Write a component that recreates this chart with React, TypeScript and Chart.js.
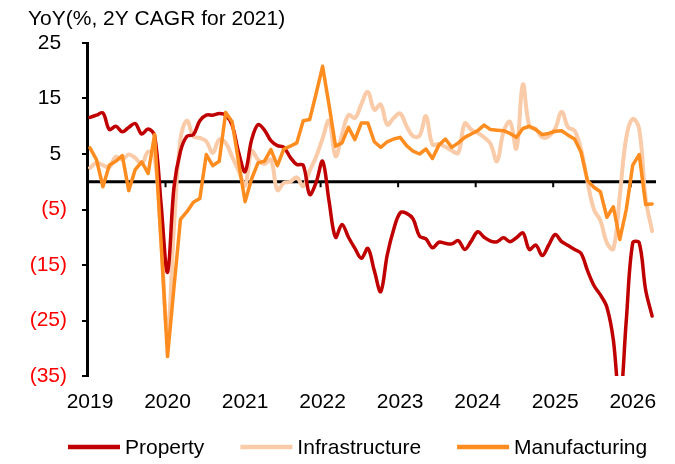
import React, { useEffect, useRef } from 'react';
import { Chart, registerables } from 'chart.js';

Chart.register(...registerables);

const FONT = "'Liberation Sans', Arial, Helvetica, sans-serif";

const titleText = 'YoY(%, 2Y CAGR for 2021)';
const yearLabels = ['2019', '2020', '2021', '2022', '2023', '2024', '2025', '2026'];
const yTickValues = [-35, -25, -15, -5, 5, 15, 25];

// Monthly values, Jan 2019 .. Apr 2026
const property = [
  11.6, 12.0, 12.4, 9.4, 10.0, 9.0, 9.8, 10.5, 8.6, 9.5, 8.3, -4.0,
  -16.3, -1.0, 5.5, 8.2, 8.5, 11.0, 12.0, 12.0, 12.3, 12.0, 10.2, 5.3,
  1.8, 7.5, 10.3, 9.3, 7.4, 6.5, 6.2, 4.4, 3.1, 3.0, -2.3, -0.1,
  3.7, -3.5, -10.0, -7.7, -10.0, -12.0, -13.8, -12.0, -16.0, -19.8, -13.2, -8.6,
  -5.6, -5.7, -6.7, -9.8, -10.3, -11.9, -10.9, -11.1, -11.2, -10.6, -12.2, -10.7,
  -9.0, -10.0, -10.7, -10.8, -10.1, -10.8, -10.1, -9.2, -12.2, -11.4, -13.3, -11.4,
  -9.5, -10.8, -11.5, -12.2, -12.9, -16.0, -18.7, -20.4, -22.6, -28.5, -40.0, -25.0,
  -11.0, -11.0, -19.5, -24.2,
];

const infrastructure = [
  2.5, 3.4, 3.0, 2.6, 4.5, 4.0, 4.9, 4.3, 3.2, 5.4, 4.5, -10.0,
  -27.0, -8.0, 7.6, 11.0, 8.2, 7.9, 7.3, 5.2, 7.6, 7.0, 4.5, 2.0,
  -0.7, 5.5, 4.0, 3.2, 4.0, -1.5, -0.2, 0.0, 0.8, -0.8, 2.0, 4.5,
  7.8, 11.0, 4.6, 8.5, 12.0, 11.5, 14.0, 16.2, 13.0, 13.9, 10.3, 11.5,
  12.3, 10.0, 8.2, 8.3, 11.8, 6.7, 6.8, 6.3, 5.6, 5.2, 10.5, 9.4,
  8.8, 8.0, 6.8, 3.7, 9.0, 10.8, 6.0, 17.5, 10.0, 9.5, 8.0, 8.2,
  9.6, 12.6, 9.8, 9.2, 5.8, 0.0, -5.0, -7.0, -11.0, -12.1, -2.5, 8.0,
  11.3, 9.5, -3.0, -8.9,
];

const manufacturing = [
  6.1, 4.0, -0.9, 3.0, 3.7, 4.7, -1.6, 2.2, 3.6, 1.5, 8.5, -11.0,
  -31.5, -19.0, -6.8, -5.4, -3.7, -3.0, 4.9, 2.9, 3.7, 12.5, 10.8, 3.5,
  -3.6, 0.5, 3.4, 3.7, 5.8, 2.9, 5.9, 6.4, 7.0, 11.0, 11.2, 15.9,
  20.8, 13.8, 6.4, 7.0, 9.8, 7.6, 10.6, 10.6, 7.2, 6.2, 7.2, 7.7,
  8.0, 6.5, 5.5, 5.0, 5.9, 4.2, 6.6, 7.7, 6.2, 7.0, 8.0, 8.6,
  9.2, 10.2, 9.4, 9.3, 9.2, 8.7, 8.0, 9.6, 10.0, 9.4, 8.5, 8.7,
  9.1, 9.2, 8.4, 7.7, 5.3, 0.2, -1.0, -1.8, -6.4, -4.5, -10.4, -5.0,
  3.0, 4.9, -4.1, -4.0,
];

const toPoints = (arr: number[]) => arr.map((y, i) => ({ x: i, y }));

export default function App() {
  const canvasRef = useRef<HTMLCanvasElement>(null);

  useEffect(() => {
    if (!canvasRef.current) return;

    const overlay = {
      id: 'overlay',
      beforeDatasetsDraw(chart: any) {
        const { ctx, chartArea, scales } = chart;
        const xs = scales.x;
        const ys = scales.y;
        const y0 = ys.getPixelForValue(0);
        ctx.save();
        ctx.strokeStyle = '#000';
        ctx.lineWidth = 3;
        ctx.beginPath();
        ctx.moveTo(chartArea.left, y0);
        ctx.lineTo(chartArea.right, y0);
        ctx.stroke();
        ctx.lineWidth = 2;
        yearLabels.forEach((_, k) => {
          const px = xs.getPixelForValue(k * 12 - 0.31);
          if (px <= chartArea.left + 2) return;
          ctx.beginPath();
          ctx.moveTo(px, y0);
          ctx.lineTo(px, y0 + 5.5);
          ctx.stroke();
        });
        ctx.restore();
      },
      afterDraw(chart: any) {
        const { ctx } = chart;
        ctx.save();
        ctx.font = `21px ${FONT}`;
        ctx.fillStyle = '#000';
        ctx.textAlign = 'left';
        ctx.textBaseline = 'alphabetic';
        ctx.fillText(titleText, 28, 25);

        let lx = 68;
        const ly = 447;
        chart.data.datasets.forEach((ds: any) => {
          ctx.strokeStyle = ds.borderColor;
          ctx.lineWidth = 4.5;
          ctx.lineCap = 'butt';
          ctx.beginPath();
          ctx.moveTo(lx, ly);
          ctx.lineTo(lx + 52, ly);
          ctx.stroke();
          ctx.fillStyle = '#000';
          ctx.textBaseline = 'middle';
          ctx.fillText(ds.label, lx + 57, ly + 1);
          lx += 57 + ctx.measureText(ds.label).width + 36;
        });
        ctx.restore();
      },
    };

    const chart = new Chart(canvasRef.current, {
      type: 'line',
      data: {
        datasets: [
          {
            label: 'Property',
            data: toPoints(property),
            borderColor: '#C00000',
            backgroundColor: '#C00000',
            borderWidth: 3.5,
            tension: 0.35,
            pointRadius: 0,
            borderJoinStyle: 'round',
            borderCapStyle: 'round',
            order: 1,
          },
          {
            label: 'Infrastructure',
            data: toPoints(infrastructure),
            borderColor: '#F9CBA9',
            backgroundColor: '#F9CBA9',
            borderWidth: 4,
            tension: 0.4,
            pointRadius: 0,
            borderJoinStyle: 'round',
            borderCapStyle: 'round',
            order: 2,
          },
          {
            label: 'Manufacturing',
            data: toPoints(manufacturing),
            borderColor: '#FF8C1F',
            backgroundColor: '#FF8C1F',
            borderWidth: 3.5,
            tension: 0,
            pointRadius: 0,
            borderJoinStyle: 'round',
            borderCapStyle: 'round',
            order: 0,
          },
        ] as any,
      },
      options: {
        responsive: false,
        animation: false,
        events: [],
        layout: { padding: { top: 43, right: 19, bottom: 0, left: 0 } },
        plugins: {
          legend: { display: false },
          tooltip: { enabled: false },
          title: { display: false },
        },
        scales: {
          x: {
            type: 'linear',
            min: -0.464,
            max: 87.6,
            grid: { display: false },
            border: { display: false },
            afterBuildTicks: (s: any) => {
              s.ticks = yearLabels.map((_, k) => ({ value: k * 12 }));
            },
            afterFit: (s: any) => {
              s.height = 88;
            },
            ticks: {
              autoSkip: false,
              maxRotation: 0,
              padding: 6,
              color: '#000',
              font: { size: 21, family: FONT },
              callback: (v: any) => yearLabels[Math.round(Number(v) / 12)] ?? '',
            },
          },
          y: {
            type: 'linear',
            min: -35,
            max: 25,
            afterBuildTicks: (s: any) => {
              s.ticks = yTickValues.map((v) => ({ value: v }));
            },
            afterFit: (s: any) => {
              s.width = 87;
            },
            grid: {
              drawOnChartArea: false,
              drawTicks: true,
              tickLength: 5,
              color: '#000',
              lineWidth: 2,
            },
            border: { display: true, color: '#000', width: 3 },
            ticks: {
              padding: 15,
              font: { size: 21, family: FONT },
              color: (c: any) => (c.tick && c.tick.value < 0 ? '#FF0000' : '#000'),
              callback: (v: any) => (Number(v) < 0 ? `(${-Number(v)})` : `${v} `),
            },
          },
        },
      } as any,
      plugins: [overlay],
    });

    return () => chart.destroy();
  }, []);

  return (
    <div style={{ position: 'fixed', left: 0, top: 0, width: 675, height: 464, background: '#fff' }}>
      <canvas ref={canvasRef} width={675} height={464} style={{ display: 'block', width: 675, height: 464 }} />
    </div>
  );
}
